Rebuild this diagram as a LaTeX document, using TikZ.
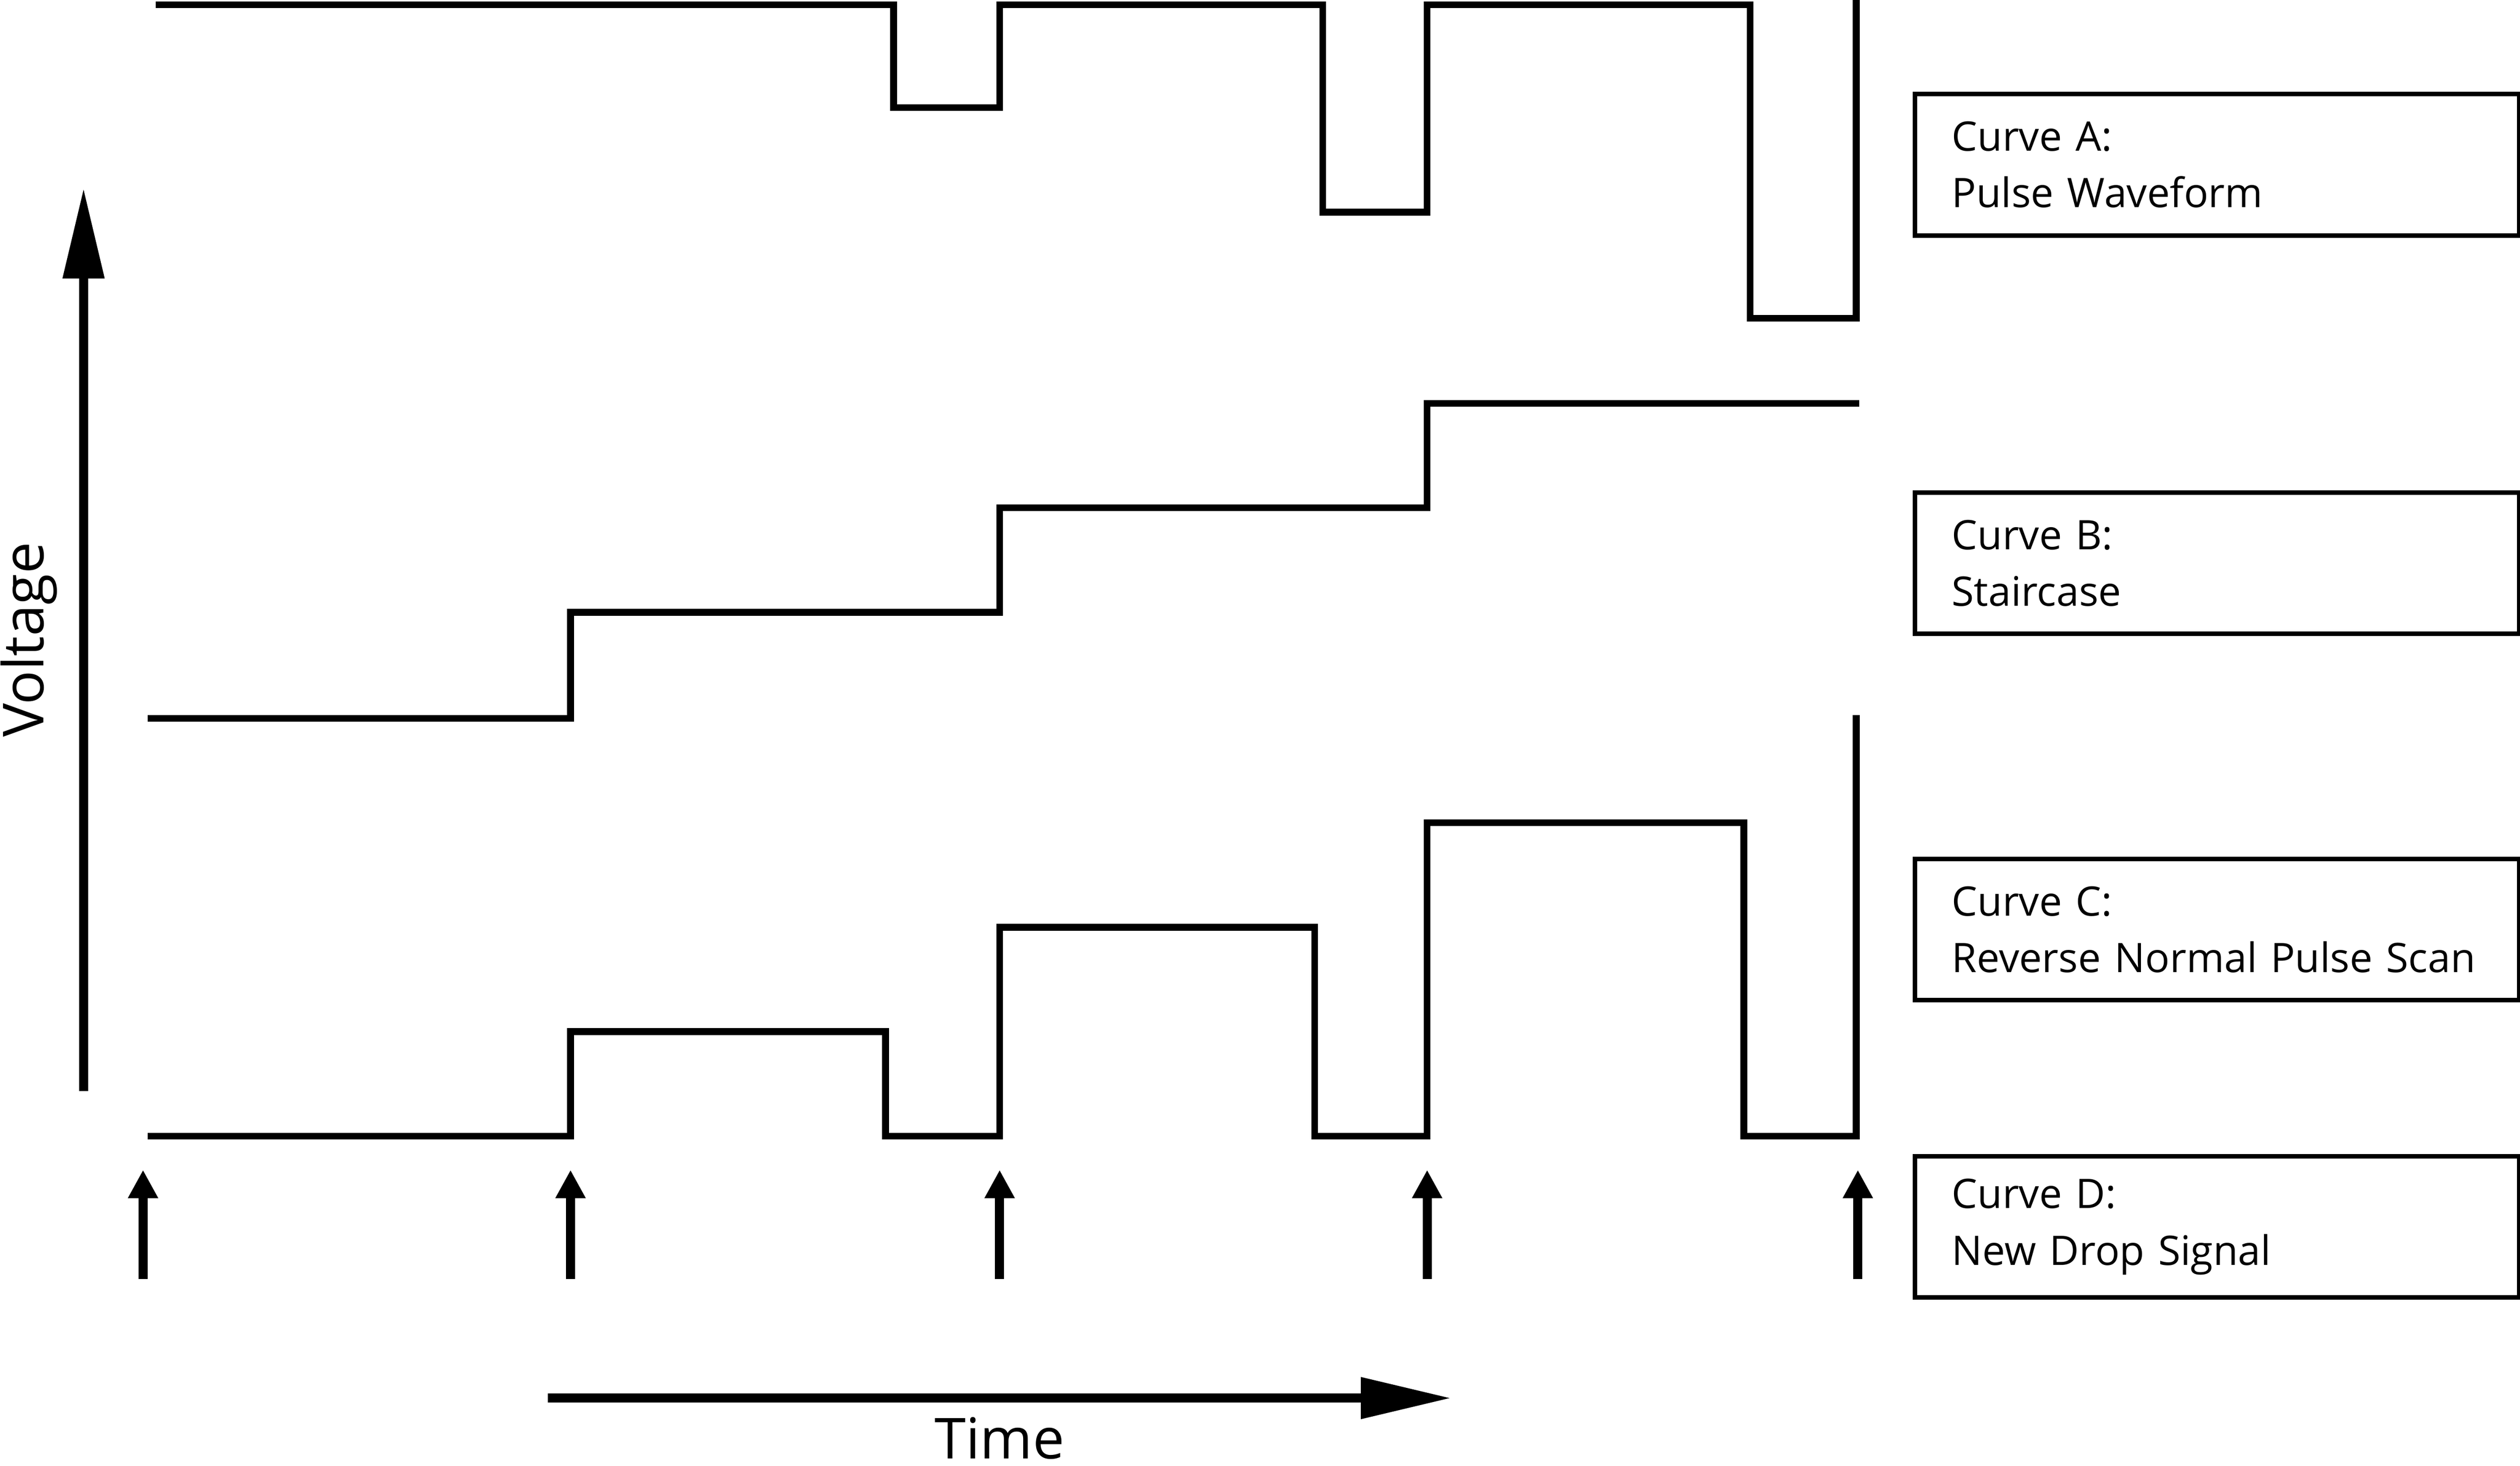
\documentclass[tikz,border=0pt]{standalone}
\usepackage{fontspec}
\setmainfont{Open Sans}
\usetikzlibrary{arrows.meta}
\tikzset{
  wave/.style={line width=1.2pt, line join=miter},
  legend/.style={draw, line width=0.8pt, minimum width=3.76cm, minimum height=0.88cm,
    anchor=north west, align=left, inner sep=0pt, font=\fontsize{7.2}{10}\selectfont,
    text width=3.3cm},
  dropsig/.style={line width=1.6pt, -{Triangle[length=5pt,width=5pt]}},
}
\begin{document}
\begin{tikzpicture}[x=0.01cm, y=-0.01cm]
  \useasboundingbox (0,0) rectangle (1568,912);

  % Curve A: pulse waveform
  \draw[wave] (97,3) -- (556,3) -- (556,67) -- (622,67) -- (622,3) -- (823,3)
    -- (823,132) -- (888,132) -- (888,3) -- (1089,3) -- (1089,198) -- (1155,198) -- (1155,0);

  % Curve B: staircase
  \draw[wave] (92,447) -- (355,447) -- (355,381) -- (622,381) -- (622,316)
    -- (888,316) -- (888,251) -- (1157,251);

  % Curve C: reverse normal pulse scan
  \draw[wave] (92,707) -- (355,707) -- (355,642) -- (551,642) -- (551,707) -- (622,707)
    -- (622,577) -- (818,577) -- (818,707) -- (888,707) -- (888,512) -- (1085,512)
    -- (1085,707) -- (1155,707) -- (1155,445);

  % Curve D: new drop signal
  \foreach \x [count=\i] in {89,355,622,888,1156} {
    \coordinate (d\i) at (\x,796);
    \coordinate (u\i) at (\x,728);
    \draw[dropsig] (d\i) -- (u\i);
  }

  % axes
  \coordinate (v0) at (52,679);
  \coordinate (v1) at (52,117);
  \draw[line width=1.6pt, -{Triangle[length=16pt,width=7pt]}] (v0) -- (v1);
  \node[rotate=90, font=\fontsize{10}{12}\selectfont] (volt) at (18,398) {Voltage};
  \coordinate (t0) at (341,870);
  \coordinate (t1) at (903,870);
  \draw[line width=1.6pt, -{Triangle[length=16pt,width=7pt]}] (t0) -- (t1);
  \node[font=\fontsize{10}{12}\selectfont] (time) at (622,895) {Time};

  % legend boxes
  \node[legend] (boxA) at (1190,57) {Curve A:\\Pulse Waveform};
  \node[legend] (boxB) at (1190,305) {Curve B:\\Staircase};
  \node[legend] (boxC) at (1190,533) {Curve C:\\Reverse Normal Pulse Scan};
  \node[legend] (boxD) at (1190,718) {Curve D:\\New Drop Signal};
\end{tikzpicture}
\end{document}
